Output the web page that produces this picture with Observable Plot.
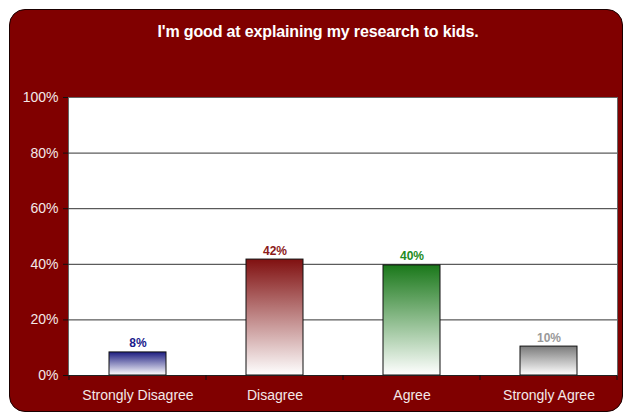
<!DOCTYPE html>
<html>
<head>
<meta charset="utf-8">
<script src="https://cdn.jsdelivr.net/npm/d3@7"></script>
<script src="https://cdn.jsdelivr.net/npm/@observablehq/plot@0.6"></script>
<style>
  html, body { margin: 0; padding: 0; background: #ffffff; }
  #wrap { position: relative; width: 624px; height: 415px; font-family: "Liberation Sans", Arial, sans-serif; }
  #box { position: absolute; left: 9px; top: 9px; width: 612px; height: 401px; background: #800000; border: 1.5px solid #1a0000; border-radius: 16px; }
  #title { position: absolute; left: 11px; width: 614px; top: 23px; text-align: center; color: #ffffff; font-weight: bold; font-size: 16px; line-height: 18px; letter-spacing: -0.15px; }
  #chart { position: absolute; left: 0; top: 0; }
  #chart svg { background: transparent; }
</style>
</head>
<body>
<div id="wrap">
  <div id="box"></div>
  <svg width="0" height="0" style="position:absolute">
    <defs id="gdefs"></defs>
  </svg>
  <div id="title"></div>
  <div id="chart"></div>
</div>
<script>
const title = "I'm good at explaining my research to kids.";
const categories = ["Strongly Disagree", "Disagree", "Agree", "Strongly Agree"];
const values = [8.3, 41.7, 39.6, 10.4];
const barColors = ["#1c1c80", "#801010", "#1a781a", "#7a7a7a"];
const labelColors = ["#1a1a8c", "#8b1a1a", "#228b22", "#999999"];
const yTicks = [0, 20, 40, 60, 80, 100];
const gridTicks = [20, 40, 60, 80];

document.getElementById("title").textContent = title;

// gradients: colour at top fading to white at bottom
const NS = "http://www.w3.org/2000/svg";
const defs = document.getElementById("gdefs");
barColors.forEach((c, i) => {
  const g = document.createElementNS(NS, "linearGradient");
  g.setAttribute("id", "g" + i);
  g.setAttribute("x1", "0"); g.setAttribute("y1", "0");
  g.setAttribute("x2", "0"); g.setAttribute("y2", "1");
  const s0 = document.createElementNS(NS, "stop");
  s0.setAttribute("offset", "0"); s0.setAttribute("stop-color", c);
  const s1 = document.createElementNS(NS, "stop");
  s1.setAttribute("offset", "1"); s1.setAttribute("stop-color", "#ffffff");
  g.appendChild(s0); g.appendChild(s1);
  defs.appendChild(g);
});

const data = categories.map((c, i) => ({category: c, value: values[i], i}));

// tick marks at category boundaries, placed through the x band scale
function boundaryTicks(index, scales, vals, dims) {
  const s = scales.x;
  const step = typeof s.step === "function" ? s.step() : s.step;
  const bw = typeof s.bandwidth === "function" ? s.bandwidth() : s.bandwidth;
  const g = document.createElementNS(NS, "g");
  const y0 = dims.height - dims.marginBottom;
  const xs = categories.map(c => s(c) + bw / 2 - step / 2);
  xs.push(s(categories[categories.length - 1]) + bw / 2 + step / 2);
  for (const x of xs) {
    const l = document.createElementNS(NS, "line");
    l.setAttribute("x1", x); l.setAttribute("x2", x);
    l.setAttribute("y1", y0); l.setAttribute("y2", y0 + 5);
    l.setAttribute("stroke", "#111");
    g.appendChild(l);
  }
  return g;
}

const chart = Plot.plot({
  width: 624,
  height: 415,
  marginLeft: 68,
  marginRight: 7,
  marginTop: 97,
  marginBottom: 40,
  style: {background: "transparent", fontFamily: "'Liberation Sans', Arial, sans-serif"},
  x: {domain: categories, paddingInner: 0.585, paddingOuter: 0.2925},
  y: {domain: [0, 100]},
  marks: [
    Plot.frame({fill: "white", stroke: "#666"}),
    Plot.ruleY(gridTicks, {stroke: "#333", strokeWidth: 1}),
    ...data.map(d => Plot.barY([d], {x: "category", y: "value", fill: `url(#g${d.i})`, stroke: "#111", strokeWidth: 1})),
    ...data.map(d => Plot.text([d], {x: "category", y: "value", text: v => Math.round(v.value) + "%", fill: labelColors[d.i], fontWeight: "bold", fontSize: 12, lineAnchor: "bottom", dy: -5})),
    Plot.ruleY([0], {stroke: "#222"}),
    Plot.ruleX([0], {frameAnchor: "left", stroke: "#555"}),
    Plot.axisY(yTicks, {tickFormat: d => d + "%", tickSize: 5, tickPadding: 5, fill: "#f4e8e8", stroke: "#111", fontSize: 14, label: null}),
    Plot.axisX({tickSize: 0, tickPadding: 15, fill: "#f4e8e8", fontSize: 14, label: null}),
    boundaryTicks
  ]
});
document.getElementById("chart").appendChild(chart);
</script>
</body>
</html>
